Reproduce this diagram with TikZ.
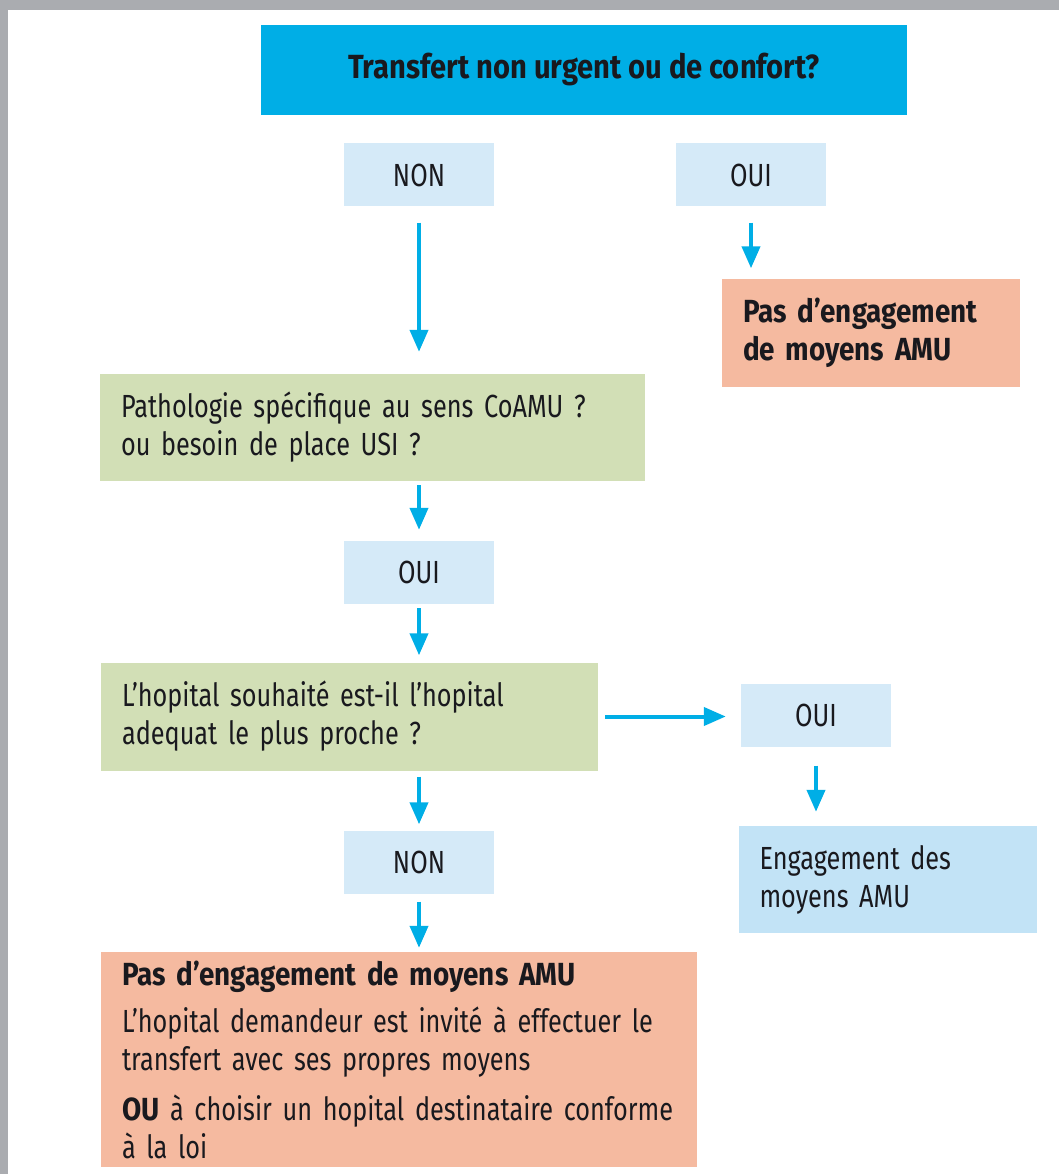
\documentclass[tikz,border=0pt]{standalone}
\usepackage{fontspec}
\setmainfont[FakeStretch=0.79, BoldFeatures={FakeStretch=0.87}]{Fira Sans}
\usetikzlibrary{arrows.meta}
\definecolor{amucyan}{RGB}{0,174,230}
\definecolor{paleblue}{RGB}{213,234,248}
\definecolor{engblue}{RGB}{194,227,246}
\definecolor{qgreen}{RGB}{210,223,182}
\definecolor{nosalmon}{RGB}{245,186,160}
\definecolor{ink}{RGB}{25,25,30}
\definecolor{photo}{RGB}{170,172,176}
\begin{document}
\begin{tikzpicture}[x=1pt, y=-1pt,
  every node/.style={font=\fontsize{32}{38}\selectfont, text=ink, inner sep=0pt},
  box/.style={fill=#1, align=left},
  yn/.style={fill=paleblue, minimum width=150, minimum height=63},
  arr/.style={draw=amucyan, line width=4pt, -{Triangle[width=18pt,length=22pt]}}]
  \useasboundingbox (0,0) rectangle (1059,1174);
  % bits of the photo behind the page
  \fill[photo] (0,0) rectangle (1059,10);
  \fill[photo] (0,0) rectangle (8,1174);

  \node[fill=amucyan, minimum width=646, minimum height=90, font=\fontsize{33.5}{38}\selectfont\bfseries] (q1) at (584,70) {Transfert non urgent ou de confort?};
  \node[yn] (non1) at (419,175) {NON};
  \node[yn] (oui1) at (751,175) {OUI};
  \node[box=nosalmon, minimum width=298, minimum height=108, text width=256pt, font=\fontsize{32}{38}\selectfont\bfseries] (pas1) at (871,332.5) {Pas d’engagement\\de moyens AMU};
  \node[box=qgreen, minimum width=545, minimum height=107, text width=503pt] (q2) at (372.5,427.5) {Pathologie spécifique au sens CoAMU ?\\ou besoin de place USI ?};
  \node[yn] (oui2) at (419,572.5) {OUI};
  \node[box=qgreen, minimum width=497, minimum height=108, text width=455pt] (q3) at (349.5,716.5) {L’hopital souhaité est-il l’hopital\\adequat le plus proche ?};
  \node[yn] (oui3) at (816,715) {OUI};
  \node[box=engblue, minimum width=298, minimum height=107, text width=256pt] (eng) at (887.5,879.5) {Engagement des\\moyens AMU};
  \node[yn] (non2) at (419,862) {NON};
  \node[box=nosalmon, minimum width=596, minimum height=215, text width=554pt] (pas2) at (399,1059.5) {\textbf{Pas d’engagement de moyens AMU}\\[9pt]L’hopital demandeur est invité à effectuer le\\transfert avec ses propres moyens\\[12pt]\textbf{OU} à choisir un hopital destinataire conforme\\à la loi};

  \draw[arr, shorten <=16pt, shorten >=22pt] (non1) -- (q2.north -| non1);
  \draw[arr, shorten <=16pt, shorten >=10pt] (oui1) -- (oui1 |- pas1.north);
  \draw[arr, shorten <=4pt, shorten >=11pt] (q2.south -| oui2) -- (oui2);
  \draw[arr, shorten <=4pt, shorten >=7pt] (oui2) -- (oui2 |- q3.north);
  \draw[arr, shorten <=7pt, shorten >=15pt] (q3.east) -- (q3.east -| oui3.west);
  \draw[arr, shorten <=19pt, shorten >=14pt] (oui3) -- (oui3 |- eng.north);
  \draw[arr, shorten <=6pt, shorten >=6pt] (q3.south -| non2) -- (non2);
  \draw[arr, shorten <=8pt, shorten >=4pt] (non2) -- (non2 |- pas2.north);
\end{tikzpicture}
\end{document}
